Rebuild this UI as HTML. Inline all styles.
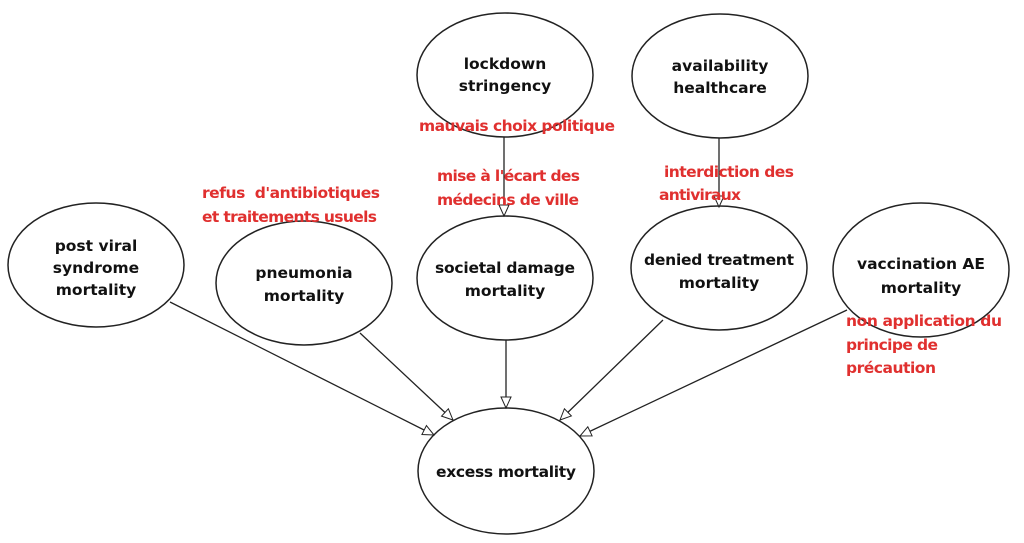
<!DOCTYPE html>
<html><head><meta charset="utf-8"><style>
html,body{margin:0;padding:0;background:#fff;}
svg{display:block;}
.n{font-family:"DejaVu Sans","Liberation Sans",sans-serif;font-weight:bold;font-size:15.5px;fill:#111;text-anchor:middle;}
.r{font-family:"DejaVu Sans","Liberation Sans",sans-serif;font-weight:bold;font-size:15.5px;fill:#e0302f;}
</style></head><body>
<svg width="1024" height="543" viewBox="0 0 1024 543" xmlns="http://www.w3.org/2000/svg">
<defs>
<marker id="a" markerWidth="14" markerHeight="14" refX="12" refY="6" orient="auto" markerUnits="userSpaceOnUse">
<path d="M1,1 L12,6 L1,11 Z" fill="#fff" stroke="#222" stroke-width="1"/>
</marker>
</defs>
<g fill="#fff" stroke="#222" stroke-width="1.5">
<ellipse cx="96" cy="265" rx="88" ry="62"/>
<ellipse cx="304" cy="283" rx="88" ry="62"/>
<ellipse cx="505" cy="75" rx="88" ry="62"/>
<ellipse cx="720" cy="76" rx="88" ry="62"/>
<ellipse cx="505" cy="278" rx="88" ry="62"/>
<ellipse cx="719" cy="268" rx="88" ry="62"/>
<ellipse cx="921" cy="270" rx="88" ry="67"/>
<ellipse cx="506" cy="471" rx="88" ry="63"/>
</g>
<g stroke="#222" stroke-width="1.3" fill="none" marker-end="url(#a)">
<line x1="170" y1="302" x2="434" y2="435"/>
<line x1="360" y1="333" x2="453" y2="420"/>
<line x1="506" y1="340" x2="506" y2="408"/>
<line x1="663" y1="320" x2="560" y2="420"/>
<line x1="847" y1="310" x2="580" y2="436"/>
<line x1="504" y1="137" x2="504" y2="216"/>
<line x1="719" y1="138" x2="719" y2="207"/>
</g>
<text class="n" x="96" y="251">post viral</text>
<text class="n" x="96" y="273">syndrome</text>
<text class="n" x="96" y="295">mortality</text>
<text class="n" x="304" y="278">pneumonia</text>
<text class="n" x="304" y="301">mortality</text>
<text class="n" x="505" y="69">lockdown</text>
<text class="n" x="505" y="91">stringency</text>
<text class="n" x="720" y="71">availability</text>
<text class="n" x="720" y="93">healthcare</text>
<text class="n" x="505" y="273" textLength="140">societal damage</text>
<text class="n" x="505" y="296">mortality</text>
<text class="n" x="719" y="265" textLength="150">denied treatment</text>
<text class="n" x="719" y="288">mortality</text>
<text class="n" x="921" y="269" textLength="128">vaccination AE</text>
<text class="n" x="921" y="293">mortality</text>
<text class="n" x="506" y="477" textLength="140">excess mortality</text>
<text class="r" x="419" y="131" textLength="196">mauvais choix politique</text>
<text class="r" x="437" y="181" textLength="143">mise à l'écart des</text>
<text class="r" x="437" y="205" textLength="142">médecins de ville</text>
<text class="r" x="664" y="177" textLength="130">interdiction des</text>
<text class="r" x="659" y="200" textLength="82">antiviraux</text>
<text class="r" x="202" y="198" textLength="178" xml:space="preserve">refus  d'antibiotiques</text>
<text class="r" x="202" y="222" textLength="175">et traitements usuels</text>
<text class="r" x="846" y="326" textLength="156">non application du</text>
<text class="r" x="846" y="350" textLength="92">principe de</text>
<text class="r" x="846" y="373" textLength="90">précaution</text>
</svg>
</body></html>
